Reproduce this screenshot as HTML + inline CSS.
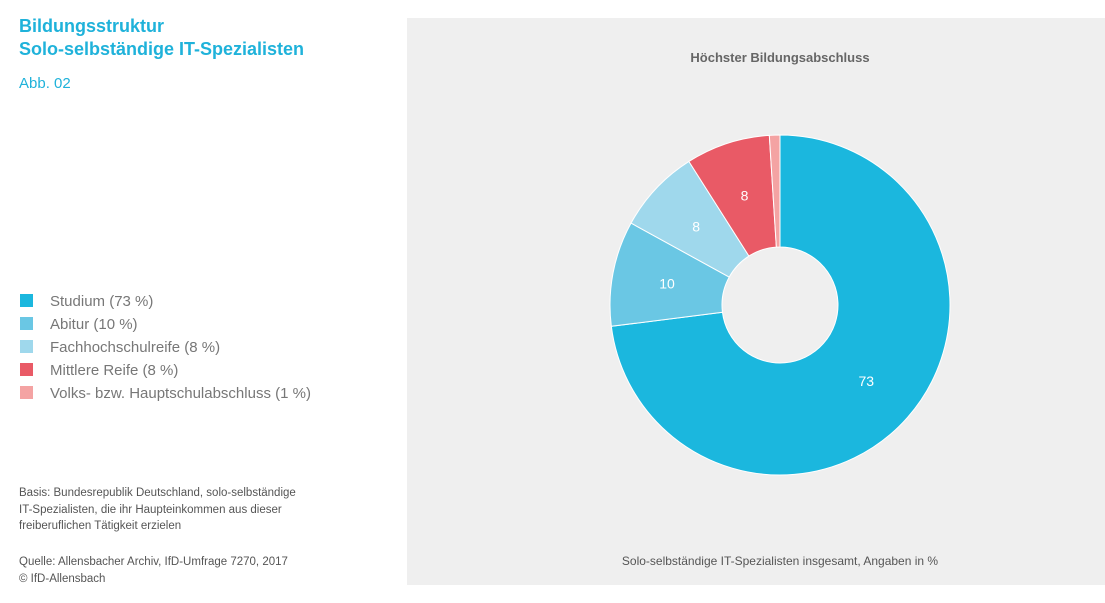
<!DOCTYPE html>
<html><head><meta charset="utf-8"><style>
body{margin:0;width:1105px;height:603px;background:#fff;font-family:"Liberation Sans",sans-serif;position:relative;overflow:hidden}
.a{position:absolute;white-space:nowrap}
</style></head><body>
<div class="a" style="left:19px;top:15px;font-size:18px;font-weight:bold;color:#1fb2da;line-height:23px">Bildungsstruktur<br>Solo-selbständige IT-Spezialisten</div>
<div class="a" style="left:19px;top:75px;font-size:15px;color:#1fb2da">Abb. 02</div>
<div id="legend"></div>
<div class="a" style="left:19px;top:485px;font-size:11.5px;color:#555;line-height:16.5px">Basis: Bundesrepublik Deutschland, solo-selbständige<br>IT-Spezialisten, die ihr Haupteinkommen aus dieser<br>freiberuflichen Tätigkeit erzielen</div>
<div class="a" style="left:19px;top:554px;font-size:11.5px;color:#555;line-height:16.5px">Quelle: Allensbacher Archiv, IfD-Umfrage 7270, 2017<br>© IfD-Allensbach</div>
<div class="a" style="left:407px;top:18px;width:698px;height:567px;background:#efefef"></div>
<svg class="a" style="left:0;top:0" width="1105" height="603" id="svg">
<text x="780" y="62" text-anchor="middle" font-size="13" font-weight="bold" fill="#666">Höchster Bildungsabschluss</text>
<text x="780" y="565" text-anchor="middle" font-size="12" fill="#555">Solo-selbständige IT-Spezialisten insgesamt, Angaben in %</text>
</svg>
<script>
const categories=["Studium","Abitur","Fachhochschulreife","Mittlere Reife","Volks- bzw. Hauptschulabschluss"];
const values=[73,10,8,8,1];
const colors=["#1bb7de","#6ac7e4","#9fd8ec","#e95a66","#f4a3a3"];
const svg=document.getElementById('svg');const NS="http://www.w3.org/2000/svg";
const cx=780,cy=305,R=170,r0=58;
const total=values.reduce((a,b)=>a+b,0);
function pt(a,rr){return [cx+rr*Math.sin(a),cy-rr*Math.cos(a)];}
let acc=0;
values.forEach((v,i)=>{
 const a0=acc/total*2*Math.PI;acc+=v;const a1=acc/total*2*Math.PI;
 const lg=(a1-a0)>Math.PI?1:0;
 const [x0,y0]=pt(a0,R),[x1,y1]=pt(a1,R),[x2,y2]=pt(a1,r0),[x3,y3]=pt(a0,r0);
 const p=document.createElementNS(NS,'path');
 p.setAttribute('d',`M${x0},${y0}A${R},${R} 0 ${lg} 1 ${x1},${y1}L${x2},${y2}A${r0},${r0} 0 ${lg} 0 ${x3},${y3}Z`);
 p.setAttribute('fill',colors[i]);p.setAttribute('stroke','#fff');p.setAttribute('stroke-width','1');
 
 
 svg.appendChild(p);
 if(v>=5){const [lx,ly]=pt((a0+a1)/2,115);
  const t=document.createElementNS(NS,'text');t.setAttribute('x',lx);t.setAttribute('y',ly+5);
  t.setAttribute('text-anchor','middle');t.setAttribute('font-size','14');t.setAttribute('fill','#fff');t.textContent=v;
  
  
  svg.appendChild(t);}
});
const lg=document.getElementById('legend');
categories.forEach((c,i)=>{
 const d=document.createElement('div');d.className='a';
 d.style.cssText=`left:20px;top:${293+i*23}px;font-size:15px;color:#777;line-height:18px`;
 
 
 d.innerHTML=`<span style="display:inline-block;width:13px;height:13px;background:${colors[i]};vertical-align:-1px;margin-right:17px"></span>${c} (${values[i]} %)`;
 lg.appendChild(d);
});
</script>
</body></html>
